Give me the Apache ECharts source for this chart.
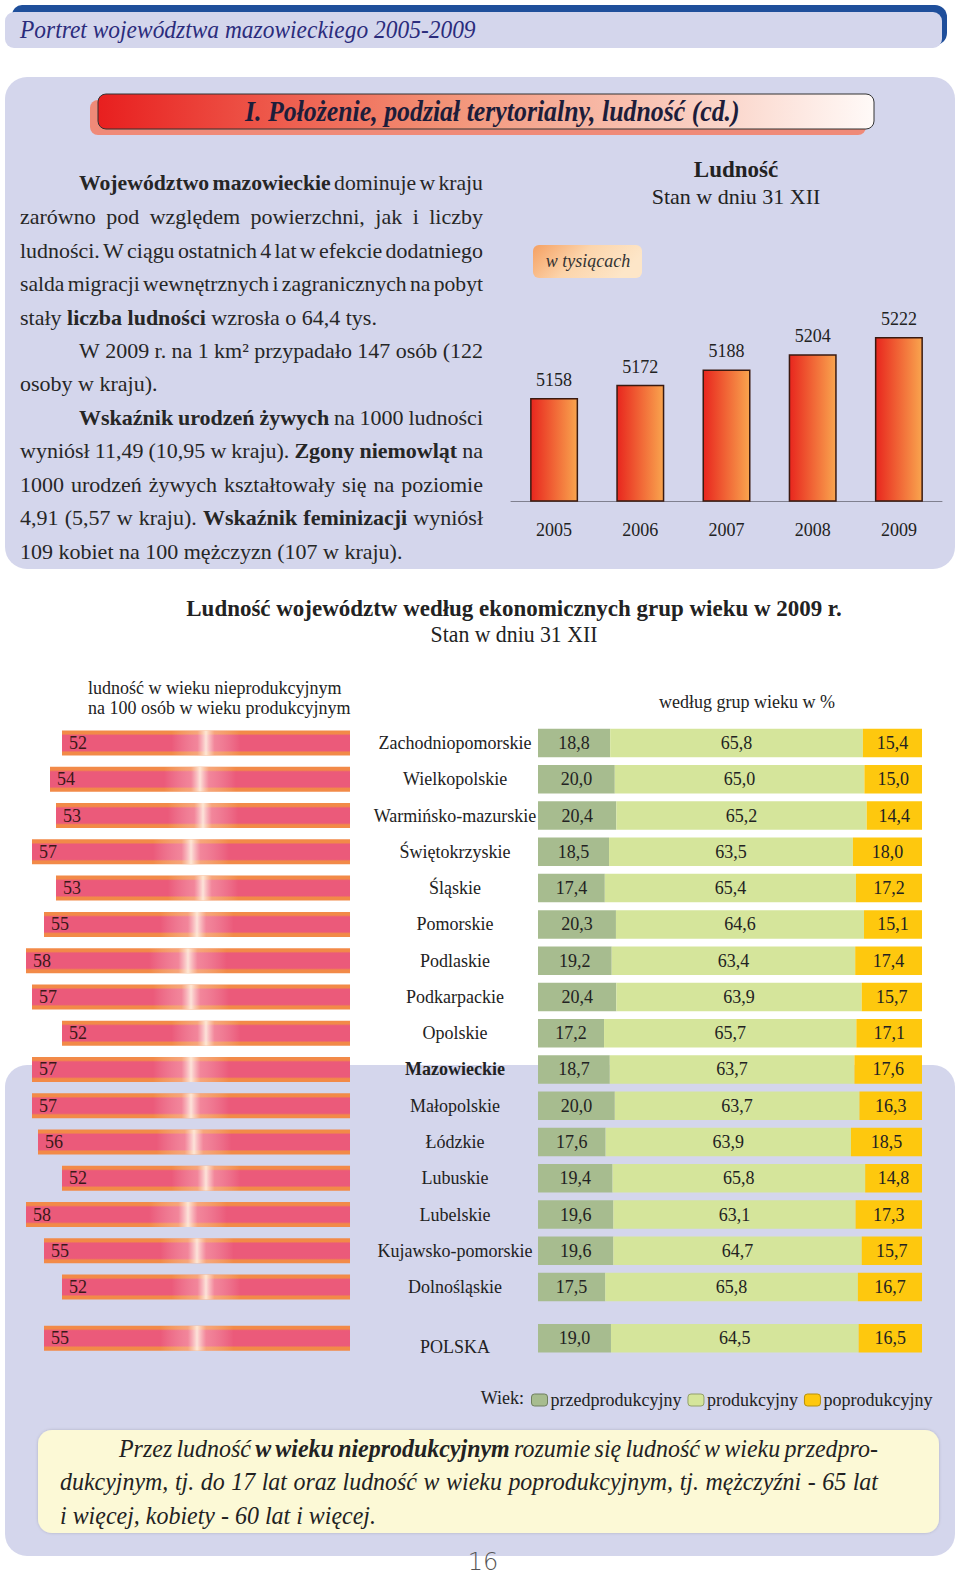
<!DOCTYPE html>
<html><head><meta charset="utf-8">
<script src="https://cdn.jsdelivr.net/npm/echarts@6/dist/echarts.min.js"></script>
<style>html,body{margin:0;padding:0;background:#fff}#c{width:960px;height:1579px}</style>
</head><body><div id="c"></div>
<script>
// ---------- data ----------
const years = ['2005', '2006', '2007', '2008', '2009'];
const population = [5158, 5172, 5188, 5204, 5222];

const regions = ['Zachodniopomorskie', 'Wielkopolskie', 'Warmińsko-mazurskie', 'Świętokrzyskie', 'Śląskie',
  'Pomorskie', 'Podlaskie', 'Podkarpackie', 'Opolskie', 'Mazowieckie', 'Małopolskie', 'Łódzkie',
  'Lubuskie', 'Lubelskie', 'Kujawsko-pomorskie', 'Dolnośląskie'];
const dependency = [52, 54, 53, 57, 53, 55, 58, 57, 52, 57, 57, 56, 52, 58, 55, 52];
const preWorking = [18.8, 20.0, 20.4, 18.5, 17.4, 20.3, 19.2, 20.4, 17.2, 18.7, 20.0, 17.6, 19.4, 19.6, 19.6, 17.5];
const working = [65.8, 65.0, 65.2, 63.5, 65.4, 64.6, 63.4, 63.9, 65.7, 63.7, 63.7, 63.9, 65.8, 63.1, 64.7, 65.8];
const postWorking = [15.4, 15.0, 14.4, 18.0, 17.2, 15.1, 17.4, 15.7, 17.1, 17.6, 16.3, 18.5, 14.8, 17.3, 15.7, 16.7];

const country = ['POLSKA'];
const countryDependency = [55];
const countryPre = [19.0];
const countryWorking = [64.5];
const countryPost = [16.5];

const groupNames = ['przedprodukcyjny', 'produkcyjny', 'poprodukcyjny'];

// ---------- helpers ----------
const FAM = '"Liberation Serif", "Times New Roman", serif';
const ctx = document.createElement('canvas').getContext('2d');
function fontStr(size, flags) {
  return (flags.indexOf('i') >= 0 ? 'italic ' : '') + (flags.indexOf('b') >= 0 ? 'bold ' : '') + size + 'px ' + FAM;
}
function measure(t, f) { ctx.font = f; return ctx.measureText(t).width; }
const els = [];
function txt(t, x, y, size, flags, color, align, scale) {
  els.push({ type: 'text', x: x, y: y, scaleX: scale || 1, z: 50, silent: true,
    style: { text: t, font: fontStr(size, flags), fill: color, align: align || 'left', verticalAlign: 'middle' } });
}
function fit(t, size, flags, width) { return width / measure(t, fontStr(size, flags)); }
function line(parts, x0, x1, y, size, justify, scale, color) {
  const words = [];
  parts.forEach(p => {
    p[0].split(' ').filter(w => w.length).forEach(w => words.push([w, p[1]]));
  });
  let raw = words.map(w => measure(w[0], fontStr(size, w[1])));
  let rawSum = raw.reduce((a, b) => a + b, 0);
  const sp = measure(' ', fontStr(size, ''));
  if (justify && words.length > 1) {
    const minGap = sp * 0.6 * scale;
    const avail = x1 - x0 - minGap * (words.length - 1);
    if (rawSum * scale > avail) scale = avail / rawSum;
  }
  const widths = raw.map(w => w * scale);
  const sum = rawSum * scale;
  const gap = justify && words.length > 1 ? (x1 - x0 - sum) / (words.length - 1) : sp * scale;
  let x = x0;
  words.forEach((w, i) => { txt(w[0], x, y, size, w[1], color, 'left', scale); x += widths[i] + gap; });
}
function fmt(v) { return v.toFixed(1).replace('.', ','); }

// ---------- backgrounds ----------
const LAV = '#d4d6ec';
els.push({ type: 'rect', z: -10, silent: true, shape: { x: 12, y: 5, width: 935, height: 40, r: [10, 12, 12, 10] }, style: { fill: '#1f4f9b' } });
els.push({ type: 'rect', z: -9, silent: true, shape: { x: 5, y: 12, width: 937, height: 36, r: 9 }, style: { fill: LAV } });
els.push({ type: 'rect', z: -10, silent: true, shape: { x: 5, y: 77, width: 950, height: 492, r: 22 }, style: { fill: LAV } });
els.push({ type: 'rect', z: -10, silent: true, shape: { x: 5, y: 1065, width: 950, height: 491, r: 22 }, style: { fill: LAV } });
els.push({ type: 'rect', z: -8, silent: true, shape: { x: 90, y: 100, width: 776, height: 35, r: 8 }, style: { fill: '#ef8a78' } });
els.push({ type: 'rect', z: -7, silent: true, shape: { x: 98, y: 94, width: 776, height: 35, r: 8 },
  style: { fill: new echarts.graphic.LinearGradient(0, 0, 1, 0, [
    { offset: 0, color: '#e81f1f' }, { offset: 0.45, color: '#f39377' }, { offset: 1, color: '#fffaf8' }]),
    stroke: '#333', lineWidth: 1 } });
els.push({ type: 'rect', z: -7, silent: true, shape: { x: 533, y: 245, width: 109, height: 33, r: 6 },
  style: { fill: new echarts.graphic.LinearGradient(0, 0, 1, 0.3, [
    { offset: 0, color: '#f5a062' }, { offset: 0.5, color: '#fcd5ac' }, { offset: 1, color: '#fde6c8' }]) } });
els.push({ type: 'rect', z: -7, silent: true, shape: { x: 38, y: 1430, width: 901, height: 103, r: 14 },
  style: { fill: '#fcf9d6', shadowBlur: 3, shadowColor: 'rgba(0,0,0,0.18)' } });

// ---------- texts ----------
const hdr = 'Portret województwa mazowieckiego 2005-2009';
txt(hdr, 20, 29, 26, 'i', '#2b2c7c', 'left', fit(hdr, 26, 'i', 456));
const ttl = 'I. Położenie, podział terytorialny, ludność (cd.)';
txt(ttl, 245, 111, 30, 'bi', '#1d1d3a', 'left', fit(ttl, 30, 'bi', 495));

const P = [
  [[['Województwo mazowieckie', 'b'], [' dominuje w kraju', '']], 1, 1],
  [[['zarówno pod względem powierzchni, jak i liczby', '']], 0, 1],
  [[['ludności. W ciągu ostatnich 4 lat w efekcie dodatniego', '']], 0, 1],
  [[['salda migracji wewnętrznych i zagranicznych na pobyt', '']], 0, 1],
  [[['stały ', ''], ['liczba ludności', 'b'], [' wzrosła o 64,4 tys.', '']], 0, 0],
  [[['W 2009 r. na 1 km² przypadało 147 osób (122', '']], 1, 1],
  [[['osoby w kraju).', '']], 0, 0],
  [[['Wskaźnik urodzeń żywych', 'b'], [' na 1000 ludności', '']], 1, 1],
  [[['wyniósł 11,49 (10,95 w kraju). ', ''], ['Zgony niemowląt', 'b'], [' na', '']], 0, 1],
  [[['1000 urodzeń żywych kształtowały się na poziomie', '']], 0, 1],
  [[['4,91 (5,57 w kraju). ', ''], ['Wskaźnik feminizacji', 'b'], [' wyniósł', '']], 0, 1],
  [[['109 kobiet na 100 mężczyzn (107 w kraju).', '']], 0, 0]
];
P.forEach((p, i) => line(p[0], p[1] ? 79 : 20, 483, 183.3 + i * 33.43, 22, !!p[2], 1, '#262626'));

txt('Ludność', 736, 169, 23, 'b', '#222', 'center');
txt('Stan w dniu 31 XII', 736, 196.5, 22, '', '#222', 'center');
txt('w tysiącach', 588, 261, 18, 'i', '#333', 'center');

const t2 = 'Ludność województw według ekonomicznych grup wieku w 2009 r.';
txt(t2, 514, 608, 23, 'b', '#222', 'center', fit(t2, 23, 'b', 656));
txt('Stan w dniu 31 XII', 514, 634.5, 23, '', '#222', 'center', fit('Stan w dniu 31 XII', 23, '', 167));
txt('ludność w wieku nieprodukcyjnym', 88, 688, 18, '', '#222', 'left');
txt('na 100 osób w wieku produkcyjnym', 88, 708, 18, '', '#222', 'left');
txt('według grup wieku w %', 747, 702, 18, '', '#222', 'center');
txt('Wiek:', 524, 1398, 18, '', '#222', 'right');

const fnScale = fit('i więcej, kobiety - 60 lat i więcej.', 25, 'i', 316);
line([['Przez ludność ', 'i'], ['w wieku nieprodukcyjnym', 'bi'], [' rozumie się ludność w wieku przedpro-', 'i']], 119, 878, 1448.5, 25, true, fnScale, '#222');
line([['dukcyjnym, tj. do 17 lat oraz ludność w wieku poprodukcyjnym, tj. mężczyźni - 65 lat', 'i']], 60, 878, 1481.7, 25, true, fnScale, '#222');
line([['i więcej, kobiety - 60 lat i więcej.', 'i']], 60, 878, 1515, 25, false, fnScale, '#222');

els.push({ type: 'text', x: 483, y: 1562, z: 50, silent: true,
  style: { text: '16', font: '200 24px "DejaVu Sans"', fill: '#555', align: 'center', verticalAlign: 'middle' } });

// ---------- styles ----------
const popColor = new echarts.graphic.LinearGradient(0, 0, 1, 0, [{ offset: 0, color: '#e8261e' }, { offset: 1, color: '#f9a54e' }]);
const depColor = new echarts.graphic.LinearGradient(0, 0, 0, 1, [
  { offset: 0, color: '#f28a48' }, { offset: 0.13, color: '#f28a48' }, { offset: 0.2, color: '#eb5a7a' },
  { offset: 0.8, color: '#eb5a7a' }, { offset: 0.87, color: '#f28a48' }, { offset: 1, color: '#f28a48' }]);
const shine = new echarts.graphic.LinearGradient(0, 0, 1, 0, [
  { offset: 0, color: 'rgba(255,255,255,0)' }, { offset: 0.38, color: 'rgba(255,255,255,0)' },
  { offset: 0.47, color: 'rgba(255,215,215,0.35)' }, { offset: 0.5, color: 'rgba(255,242,228,0.9)' },
  { offset: 0.53, color: 'rgba(255,215,215,0.35)' }, { offset: 0.62, color: 'rgba(255,255,255,0)' },
  { offset: 1, color: 'rgba(255,255,255,0)' }]);
const groupColors = ['#a7bc8f', '#d5e59b', '#fec80e'];
const groupBorders = ['#6f7f5e', '#93a06a', '#b8900a'];

function depSeries(x, y, data) {
  return [
    { type: 'bar', name: 'dep', xAxisIndex: x, yAxisIndex: y, data: data, barWidth: 25, z: 2,
      itemStyle: { color: depColor }, silent: true },
    { type: 'bar', name: 'depShine', xAxisIndex: x, yAxisIndex: y, data: data, barWidth: 25, barGap: '-100%', z: 3,
      itemStyle: { color: shine }, silent: true,
      label: { show: true, position: 'insideLeft', distance: 7, fontSize: 18, fontFamily: FAM, color: '#3b1818' } }
  ];
}
function groupSeries(x, y, arrs, stack) {
  return arrs.map((d, i) => ({
    type: 'bar', name: groupNames[i], stack: stack, xAxisIndex: x, yAxisIndex: y, data: d, barWidth: 28.5,
    itemStyle: { color: groupColors[i] },
    label: { show: true, position: 'inside', fontSize: 18, fontFamily: FAM, color: '#222', formatter: p => fmt(p.value) }
  }));
}
const catLabel = {
  show: true, align: 'center', margin: 83, fontSize: 18, fontFamily: FAM, color: '#222',
  formatter: v => v === 'Mazowieckie' ? '{b|' + v + '}' : v,
  rich: { b: { fontWeight: 'bold', fontSize: 18, fontFamily: FAM, color: '#222' } }
};

const option = {
  animation: false,
  graphic: { elements: els },
  legend: {
    data: groupNames.map((n, i) => ({ name: n, itemStyle: { color: groupColors[i], borderColor: groupBorders[i], borderWidth: 1 } })),
    left: 526, top: 1386, itemWidth: 16, itemHeight: 12, itemGap: 6, icon: 'roundRect', selectedMode: false,
    textStyle: { fontSize: 18, fontFamily: FAM, color: '#222', padding: [0, 0, 0, -2] }
  },
  grid: [
    { left: 511, top: 310.4, width: 431, height: 190.6 },
    { left: 14, top: 724.9, width: 336, height: 580.3 },
    { left: 538, top: 724.9, width: 384, height: 580.3 },
    { left: 14, top: 1320, width: 336, height: 36.3 },
    { left: 538, top: 1320, width: 384, height: 36.3 }
  ],
  xAxis: [
    { type: 'category', gridIndex: 0, data: years, axisLine: { lineStyle: { color: '#80808f', width: 1 } },
      axisTick: { show: false }, axisLabel: { margin: 20, fontSize: 18, fontFamily: FAM, color: '#222' } },
    { type: 'value', gridIndex: 1, min: 4, max: 60, inverse: true, show: false },
    { type: 'value', gridIndex: 2, min: 0, max: 100, show: false },
    { type: 'value', gridIndex: 3, min: 4, max: 60, inverse: true, show: false },
    { type: 'value', gridIndex: 4, min: 0, max: 100, show: false }
  ],
  yAxis: [
    { type: 'value', gridIndex: 0, min: 5050, max: 5250, show: false },
    { type: 'category', gridIndex: 1, data: regions, inverse: true, show: false },
    { type: 'category', gridIndex: 2, data: regions, inverse: true, axisLine: { show: false }, axisTick: { show: false }, axisLabel: catLabel },
    { type: 'category', gridIndex: 3, data: country, show: false },
    { type: 'category', gridIndex: 4, data: country, axisLine: { show: false }, axisTick: { show: false },
      axisLabel: Object.assign({}, catLabel, { padding: [18, 0, 0, 0] }) }
  ],
  series: [
    { type: 'bar', name: 'Ludność', xAxisIndex: 0, yAxisIndex: 0, data: population, barWidth: 48,
      itemStyle: { color: popColor, borderColor: '#3a1a10', borderWidth: 1.5 },
      label: { show: true, position: 'top', distance: 9, fontSize: 18, fontFamily: FAM, color: '#222' } }
  ].concat(depSeries(1, 1, dependency))
   .concat(depSeries(3, 3, countryDependency))
   .concat(groupSeries(2, 2, [preWorking, working, postWorking], 'r'))
   .concat(groupSeries(4, 4, [countryPre, countryWorking, countryPost], 'p'))
};

const chart = echarts.init(document.getElementById('c'), null, { renderer: 'svg', width: 960, height: 1579 });
chart.setOption(option);
</script>
</body></html>
